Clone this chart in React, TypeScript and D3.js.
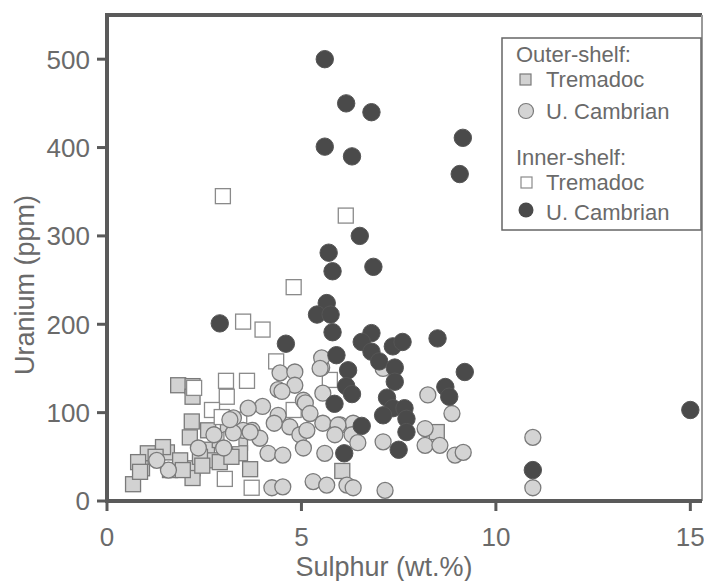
import React from 'react';
import * as d3 from 'd3';

// [sulphur wt.%, uranium ppm]
const outerTremadoc: [number, number][] = [
  [1.83, 131], [2.2, 130], [2.2, 118], [2.18, 90], [2.13, 72], [1.05, 54], [0.9, 37], [0.67, 19],
  [1.54, 55], [1.62, 35], [2.2, 37], [2.2, 26], [2.57, 58], [2.72, 46], [2.6, 80], [3.11, 78],
  [3.42, 66], [3.42, 54], [3.68, 36], [1.88, 46], [1.44, 61], [2.39, 50], [2.9, 69], [2.9, 44],
  [0.8, 44], [1.95, 35], [0.85, 33], [1.25, 50], [2.45, 40], [3.2, 50], [6.05, 34], [8.48, 78],
];

const outerCambrian: [number, number][] = [
  [4.45, 145], [4.83, 146], [4.83, 131], [4.4, 126], [4.0, 107], [3.63, 105], [3.25, 94], [4.4, 97],
  [4.7, 84], [5.05, 114], [4.96, 75], [5.14, 80], [3.73, 80], [3.93, 71], [4.14, 54], [4.52, 52],
  [5.05, 60], [4.24, 15], [4.52, 16], [5.3, 22], [3.5, 80], [4.5, 124], [5.52, 151], [5.52, 162],
  [5.55, 122], [5.55, 88], [5.6, 54], [5.65, 18], [3.68, 78], [6.0, 86], [6.33, 88], [6.17, 18],
  [6.33, 15], [5.48, 150], [5.1, 111], [5.22, 99], [5.94, 86], [5.86, 75], [6.3, 75], [6.45, 66],
  [7.1, 67], [7.15, 12], [7.1, 150], [8.25, 120], [8.87, 99], [8.18, 82], [8.18, 63], [8.56, 63],
  [8.95, 52], [9.16, 55], [10.95, 72], [10.95, 15], [1.58, 35], [1.28, 46], [3.25, 77], [3.16, 92],
  [2.35, 60], [2.75, 75], [3.0, 60], [4.3, 88],
];

const innerTremadoc: [number, number][] = [
  [2.98, 345], [6.14, 323], [4.8, 242], [3.5, 203], [4.0, 194], [4.35, 158], [3.06, 136], [3.6, 136],
  [2.24, 128], [3.08, 118], [2.7, 103], [5.73, 137], [3.03, 25], [3.72, 15], [4.8, 103], [3.2, 70],
  [2.95, 95], [3.4, 92],
];

const innerCambrian: [number, number][] = [
  [5.6, 500], [6.15, 450], [6.8, 440], [5.6, 401], [6.3, 390], [9.15, 411], [9.07, 370], [6.5, 300],
  [5.7, 281], [5.8, 260], [6.85, 265], [2.9, 201], [4.6, 178], [5.65, 224], [5.4, 211], [5.75, 211],
  [5.8, 191], [5.9, 165], [6.2, 148], [6.15, 130], [6.3, 121], [5.85, 110], [6.1, 54], [6.8, 190],
  [6.55, 180], [6.8, 169], [7.0, 158], [7.35, 175], [7.6, 180], [8.5, 184], [7.4, 151], [7.4, 135],
  [9.2, 146], [8.7, 129], [8.8, 118], [7.2, 117], [7.35, 105], [7.65, 105], [7.1, 97], [7.7, 93],
  [7.7, 78], [7.5, 58], [6.55, 85], [10.95, 35], [15, 103],
];

const xTicks = [0, 5, 10, 15];
const yTicks = [0, 100, 200, 300, 400, 500];

const W = 704;
const H = 581;
const left = 107;
const right = 702;
const top = 15;
const bottom = 501;

const axisColor = '#5a5a5a';
const textColor = '#6a6a6a';
const font = 'Liberation Sans, Arial, sans-serif';

export default function App() {
  const x = d3.scaleLinear().domain([0, 15.3]).range([left, right]);
  const y = d3.scaleLinear().domain([0, 550]).range([bottom, top]);

  const sq = 15;
  const r = 8;

  return (
    <svg width={W} height={H} style={{ position: 'absolute', left: 0, top: 0, background: '#fff' }} fontFamily={font}>
      {/* frame */}
      <line x1={left} x2={right} y1={top} y2={top} stroke={axisColor} strokeWidth={4} />
      <line x1={right} x2={right} y1={top} y2={bottom} stroke="#9a9a9a" strokeWidth={2} />

      {/* points */}
      {outerTremadoc.map((d, i) => (
        <rect key={'ot' + i} x={x(d[0]) - sq / 2} y={y(d[1]) - sq / 2} width={sq} height={sq}
          fill="#d2d2d2" stroke="#7a7a7a" strokeWidth={1.3} />
      ))}
      {innerTremadoc.map((d, i) => (
        <rect key={'it' + i} x={x(d[0]) - sq / 2} y={y(d[1]) - sq / 2} width={sq} height={sq}
          fill="#fff" stroke="#8a8a8a" strokeWidth={1.3} />
      ))}
      {outerCambrian.map((d, i) => (
        <circle key={'oc' + i} cx={x(d[0])} cy={y(d[1])} r={r}
          fill="#d4d4d4" stroke="#7a7a7a" strokeWidth={1.3} />
      ))}
      {innerCambrian.map((d, i) => (
        <circle key={'ic' + i} cx={x(d[0])} cy={y(d[1])} r={8.7}
          fill="#4a4a4a" stroke="#555" strokeWidth={1} />
      ))}

      {/* axes */}
      <line x1={left} x2={left} y1={top - 2} y2={bottom + 2} stroke={axisColor} strokeWidth={4} />
      <line x1={left - 2} x2={right} y1={bottom} y2={bottom} stroke={axisColor} strokeWidth={4} />
      {yTicks.map(t => (
        <g key={'yt' + t}>
          <line x1={left - 10} x2={left} y1={y(t)} y2={y(t)} stroke={axisColor} strokeWidth={3} />
          <text x={left - 17} y={y(t)} dy="0.36em" textAnchor="end" fontSize={26} fill={textColor}>{t}</text>
        </g>
      ))}
      {xTicks.map(t => (
        <g key={'xt' + t}>
          <line x1={x(t)} x2={x(t)} y1={bottom} y2={bottom + 10} stroke={axisColor} strokeWidth={3} />
          <text x={x(t)} y={546} textAnchor="middle" fontSize={26} fill={textColor}>{t}</text>
        </g>
      ))}

      <text x={384} y={576} textAnchor="middle" fontSize={27} fill={textColor}>Sulphur (wt.%)</text>
      <text transform={`translate(34,${285}) rotate(-90)`} textAnchor="middle"
        fontSize={27} fill={textColor}>Uranium (ppm)</text>

      {/* legend */}
      <rect x={502} y={38} width={199} height={192} fill="#fff" stroke="#666" strokeWidth={1.5} />
      <g fontSize={22} fill={textColor}>
        <text x={516} y={62}>Outer-shelf:</text>
        <rect x={520} y={74} width={11} height={11} fill="#d2d2d2" stroke="#7a7a7a" strokeWidth={1.2} />
        <text x={546} y={87}>Tremadoc</text>
        <circle cx={526} cy={111} r={7.5} fill="#d4d4d4" stroke="#7a7a7a" strokeWidth={1.2} />
        <text x={546} y={119}>U. Cambrian</text>
        <text x={516} y={165}>Inner-shelf:</text>
        <rect x={521} y={177} width={11} height={11} fill="#fff" stroke="#8a8a8a" strokeWidth={1.2} />
        <text x={546} y={190}>Tremadoc</text>
        <circle cx={526} cy={210} r={7.5} fill="#4a4a4a" />
        <text x={546} y={220}>U. Cambrian</text>
      </g>
    </svg>
  );
}
